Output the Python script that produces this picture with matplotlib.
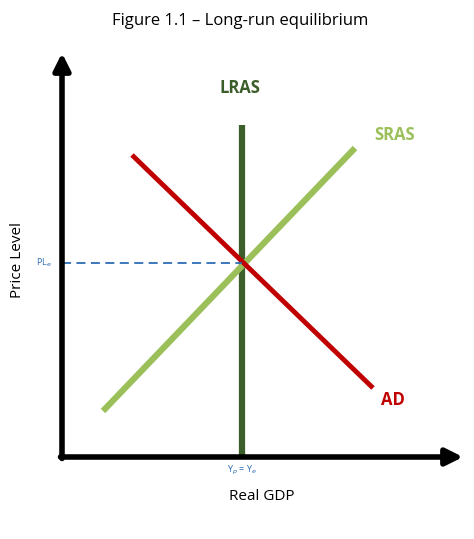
import matplotlib
matplotlib.use("Agg")
import matplotlib.pyplot as plt

# data in units relative to origin (pixels from axis origin, y up)
lras_x = [180, 180]
lras_y = [0, 332]
sras_x = [41, 293]
sras_y = [46, 309]
ad_x = [70, 311]
ad_y = [302, 69]
eq_x = 180
eq_y = 194

fig = plt.figure(figsize=(4.74, 5.39), dpi=100)
ax = fig.add_axes([0, 0, 1, 1])
ax.set_xlim(-62, 474 - 62)
ax.set_ylim(-(539 - 457), 457)
ax.axis('off')
font = 'Open Sans'

ax.plot(lras_x, lras_y, color='#3b5e2b', lw=4.5, solid_capstyle='butt')
ax.plot(sras_x, sras_y, color='#9bc05a', lw=4.5, solid_capstyle='butt')
ax.plot(ad_x, ad_y, color='#c00000', lw=3.5, solid_capstyle='butt')
ax.plot([0, eq_x], [eq_y, eq_y], color='#2e6db5', lw=1.3, ls=(0, (5, 3)))

ax.annotate('', xy=(0, 404), xytext=(0, -1.5),
            arrowprops=dict(arrowstyle='-|>,head_width=0.5,head_length=1.0', color='black', lw=4, shrinkA=0, shrinkB=0))
ax.annotate('', xy=(401, 0), xytext=(-1.5, 0),
            arrowprops=dict(arrowstyle='-|>,head_width=0.5,head_length=1.0', color='black', lw=4, shrinkA=0, shrinkB=0))

ax.text(178, 436, 'Figure 1.1 – Long-run equilibrium', ha='center', va='center', fontsize=12, family=font)
ax.text(178, 369, 'LRAS', ha='center', va='center', fontsize=12, fontweight='bold', color='#3b5e2b', family=font)
ax.text(333, 322, 'SRAS', ha='center', va='center', fontsize=12, fontweight='bold', color='#9bc05a', family=font)
ax.text(331, 57, 'AD', ha='center', va='center', fontsize=12, fontweight='bold', color='#c00000', family=font)
ax.text(-44, 197, 'Price Level', ha='center', va='center', rotation=90, fontsize=11, family=font)
ax.text(200, -40, 'Real GDP', ha='center', va='center', fontsize=11, family=font)
ax.text(-18, 194, 'PL$_e$', ha='center', va='center', fontsize=6.5, color='#2e6db5', family=font)
ax.text(180, -13, 'Y$_p$ = Y$_e$', ha='center', va='center', fontsize=6.5, color='#2e6db5', family=font)

fig.savefig('out.png', dpi=100)
